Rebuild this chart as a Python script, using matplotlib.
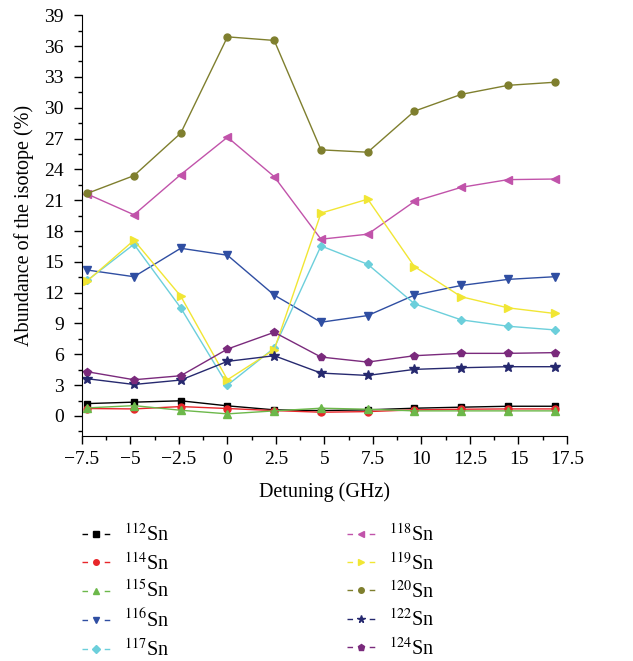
import matplotlib
matplotlib.use("Agg")
import matplotlib.pyplot as plt
from matplotlib.lines import Line2D
from matplotlib.ticker import MultipleLocator

plt.rcParams["font.family"] = ["Liberation Serif", "DejaVu Serif"]
plt.rcParams["mathtext.fontset"] = "stix"

# Detuning (GHz)
detuning = [-7.23, -4.82, -2.41, 0.0, 2.41, 4.82, 7.23, 9.64, 12.05, 14.46, 16.87]

# Abundance of each isotope (%)
sn112 = [1.2, 1.34, 1.47, 0.98, 0.59, 0.52, 0.59, 0.75, 0.85, 0.94, 0.94]
sn114 = [0.72, 0.68, 0.91, 0.72, 0.52, 0.36, 0.42, 0.59, 0.65, 0.68, 0.68]
sn115 = [0.78, 1.0, 0.55, 0.2, 0.49, 0.75, 0.65, 0.49, 0.49, 0.49, 0.49]
sn116 = [14.2, 13.55, 16.32, 15.64, 11.76, 9.12, 9.77, 11.76, 12.7, 13.29, 13.55]
sn117 = [13.19, 16.71, 10.52, 3.0, 6.61, 16.55, 14.76, 10.91, 9.35, 8.73, 8.37]
sn118 = [21.6, 19.58, 23.49, 27.13, 23.29, 17.2, 17.69, 20.88, 22.25, 23.0, 23.06]
sn119 = [13.13, 17.1, 11.66, 3.52, 6.45, 19.74, 21.1, 14.53, 11.6, 10.52, 9.97]
sn120 = [21.66, 23.39, 27.52, 36.9, 36.55, 25.9, 25.67, 29.67, 31.3, 32.18, 32.48]
sn122 = [3.62, 3.06, 3.49, 5.31, 5.86, 4.17, 3.94, 4.53, 4.69, 4.79, 4.79]
sn124 = [4.3, 3.52, 3.91, 6.51, 8.14, 5.73, 5.24, 5.86, 6.09, 6.09, 6.16]

labels = [r"$^{112}$Sn", r"$^{114}$Sn", r"$^{115}$Sn", r"$^{116}$Sn", r"$^{117}$Sn",
          r"$^{118}$Sn", r"$^{119}$Sn", r"$^{120}$Sn", r"$^{122}$Sn", r"$^{124}$Sn"]
series = [sn112, sn114, sn115, sn116, sn117, sn118, sn119, sn120, sn122, sn124]
colors = ["#000000", "#e8262a", "#6cb84a", "#2f4ea2", "#6ccfdb",
          "#c153aa", "#f1e634", "#7f7f2e", "#26296f", "#7a2a7c"]
markers = ["s", "o", "^", "v", "D", "<", ">", "o", "*", "p"]
sizes = [5, 5, 6, 6, 4.5, 6, 6, 5, 7, 6]

fig = plt.figure(figsize=(6.33, 6.61), dpi=100)
ax = fig.add_axes([0.1295, 0.3397, 0.7662, 0.6372])

handles = []
for y, c, m, s, lab in zip(series, colors, markers, sizes, labels):
    ax.plot(detuning, y, color=c, lw=1, marker=m, markersize=s,
            markeredgecolor=c)
    handles.append(Line2D([], [], color=c, lw=1, marker=m, markersize=s * 0.8,
                          markeredgecolor=c, dashes=(4, 12), label=lab))

ax.set_xlim(-7.5, 17.5)
ax.set_ylim(-2, 39)
ax.xaxis.set_major_locator(MultipleLocator(2.5))
ax.xaxis.set_minor_locator(MultipleLocator(1.25))
ax.set_yticks(range(0, 40, 3))
ax.yaxis.set_minor_locator(MultipleLocator(1.5))
ax.xaxis.set_major_formatter(plt.FuncFormatter(lambda v, p: f"{v:g}".replace("-", "\u2212")))

for side in ["top", "right"]:
    ax.spines[side].set_visible(False)
ax.tick_params(axis="both", which="major", direction="out", length=5.5, width=1,
               labelsize=14)
ax.tick_params(axis="x", which="major", pad=5)
ax.tick_params(axis="y", which="major", pad=7.5)
ax.tick_params(axis="both", which="minor", direction="out", length=3, width=1)

ax.set_xlabel("Detuning (GHz)", fontsize=14.5, labelpad=10)
ax.set_ylabel("Abundance of the isotope (%)", fontsize=14.5, labelpad=7)

fig.legend(handles=handles, ncol=2, loc="upper left",
           bbox_to_anchor=(0.1295, 0.2075), frameon=False, fontsize=14.5,
           handlelength=1.39, handletextpad=0.7, columnspacing=8.8,
           labelspacing=0.32, borderpad=0, borderaxespad=0)

fig.savefig("out.png", dpi=100)
